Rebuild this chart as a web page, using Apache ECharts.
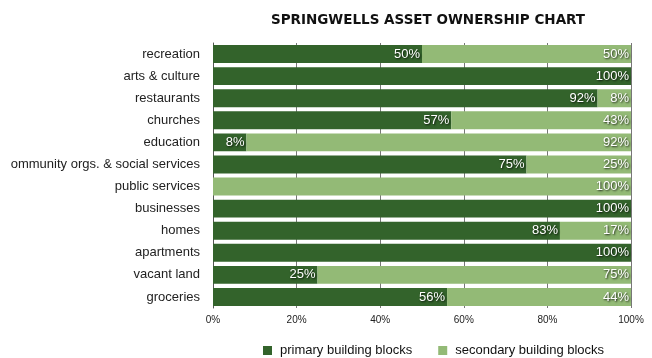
<!DOCTYPE html>
<html>
<head>
<meta charset="utf-8">
<script src="https://cdn.jsdelivr.net/npm/echarts@6/dist/echarts.min.js"></script>
<style>
  html, body { margin: 0; padding: 0; background: #fff; }
  #chart { width: 652px; height: 358px; }
</style>
</head>
<body>
<div id="chart"></div>
<script>
// Asset categories, listed top to bottom
const categories = [
  'recreation', 'arts & culture', 'restaurants', 'churches', 'education',
  'community orgs. & social services', 'public services', 'businesses',
  'homes', 'apartments', 'vacant land', 'groceries'
];
// Share of each category (%)
const primaryBlocks   = [50, 100, 92, 57, 8, 75, 0, 100, 83, 100, 25, 56];
const secondaryBlocks = [50, 0, 8, 43, 92, 25, 100, 0, 17, 0, 75, 44];
const tickLabels = ['0%', '20%', '40%', '60%', '80%', '100%'];

const FONT = '"Liberation Sans", Arial, Helvetica, sans-serif';

const barLabel = {
  show: true,
  position: 'insideRight',
  distance: 2,
  color: '#fff',
  fontFamily: FONT,
  fontSize: 13,
  textShadowColor: 'rgba(0,0,0,0.8)',
  textShadowBlur: 2,
  textShadowOffsetX: 1,
  textShadowOffsetY: 1,
  formatter: p => (p.value > 0 ? p.value + '%' : '')
};

const chart = echarts.init(document.getElementById('chart'), null, { renderer: 'canvas' });
chart.setOption({
  animation: false,
  backgroundColor: '#fff',
  title: {
    text: 'SPRINGWELLS ASSET OWNERSHIP CHART',
    left: 423,
    textAlign: 'center',
    top: 8,
    textStyle: { fontFamily: '"DejaVu Sans", sans-serif', fontSize: 13.5, fontWeight: 'bold', color: '#111' }
  },
  legend: {
    top: 339,
    left: 258,
    itemWidth: 9,
    itemHeight: 9,
    itemGap: 26,
    icon: 'rect',
    textStyle: { fontFamily: FONT, fontSize: 13, color: '#111', padding: [0, 0, 0, 3] },
    data: ['primary building blocks', 'secondary building blocks']
  },
  grid: { left: 213, right: 21, top: 43, bottom: 50, containLabel: false },
  xAxis: {
    type: 'value',
    min: 0,
    max: 100,
    interval: 20,
    axisLine: { show: false },
    axisTick: { show: false },
    axisLabel: {
      margin: 7,
      fontFamily: FONT,
      fontSize: 10,
      color: '#222',
      formatter: v => tickLabels[v / 20]
    },
    splitLine: { show: true, lineStyle: { color: '#777', width: 1 } }
  },
  yAxis: {
    type: 'category',
    data: categories,
    inverse: true,
    axisLine: { show: true, lineStyle: { color: '#555', width: 1 } },
    axisTick: { show: false },
    axisLabel: {
      margin: 13,
      fontFamily: FONT,
      fontSize: 13,
      color: '#222'
    }
  },
  // the label column is clipped at a fixed left margin
  graphic: [{
    type: 'rect',
    left: 0,
    top: 0,
    z: 100,
    shape: { width: 11, height: 358 },
    style: { fill: '#fff' }
  }],
  series: [
    {
      name: 'primary building blocks',
      type: 'bar',
      stack: 'share',
      data: primaryBlocks,
      barCategoryGap: '19%',
      itemStyle: { color: '#33632b' },
      label: barLabel
    },
    {
      name: 'secondary building blocks',
      type: 'bar',
      stack: 'share',
      data: secondaryBlocks,
      barCategoryGap: '19%',
      itemStyle: { color: '#93ba76' },
      label: barLabel
    }
  ]
});
</script>
</body>
</html>
